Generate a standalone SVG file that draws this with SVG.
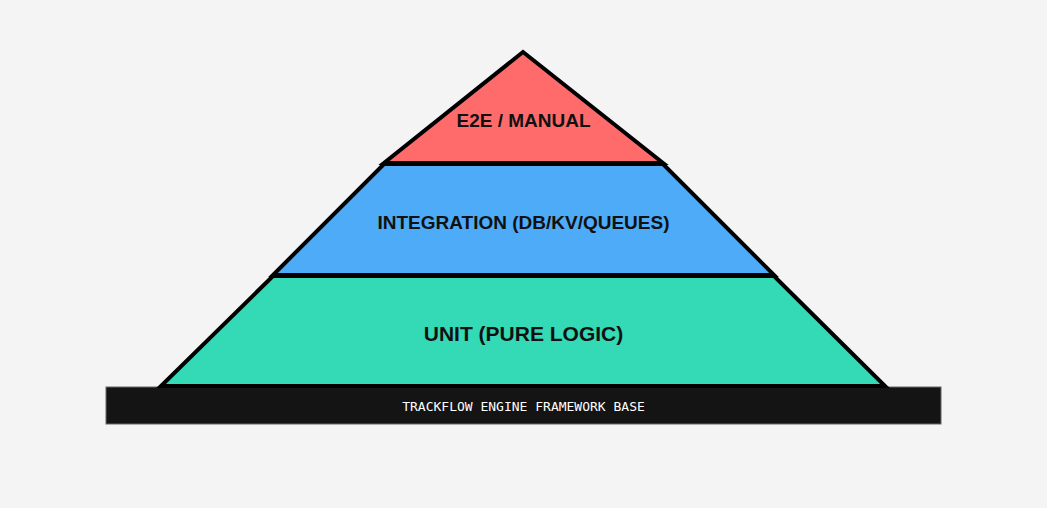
<svg xmlns="http://www.w3.org/2000/svg" width="1047" height="508" viewBox="0 0 1047 508">
<style>
.layer{stroke:#000;stroke-width:4;stroke-linejoin:miter}
.lbl{font-family:"Liberation Sans",Arial,sans-serif;font-weight:bold;fill:#111;text-anchor:middle}
</style>
<rect width="1047" height="508" fill="#f4f4f4"/>
<g id="base">
<rect x="106" y="387" width="835" height="37" fill="#141414" stroke="#666" stroke-width="1"/>
<text x="523.5" y="411" font-family="'DejaVu Sans Mono','Liberation Mono',monospace" font-size="13" fill="#fff" text-anchor="middle">TRACKFLOW ENGINE FRAMEWORK BASE</text>
</g>
<g id="unit">
<polygon class="layer" points="273,276 774,276 885,386 161,386" fill="#34d9b5"/>
<text class="lbl" x="523.5" y="341" font-size="21">UNIT (PURE LOGIC)</text>
</g>
<g id="integration">
<polygon class="layer" points="384,164 663,164 774,275 273,275" fill="#4dabf7"/>
<text class="lbl" x="523.5" y="229" font-size="19">INTEGRATION (DB/KV/QUEUES)</text>
</g>
<g id="e2e">
<polygon class="layer" points="523,52 663,163 384,163" fill="#ff6b6b"/>
<text class="lbl" x="523.5" y="127" font-size="19">E2E / MANUAL</text>
</g>
<g id="connectors"/>
</svg>
